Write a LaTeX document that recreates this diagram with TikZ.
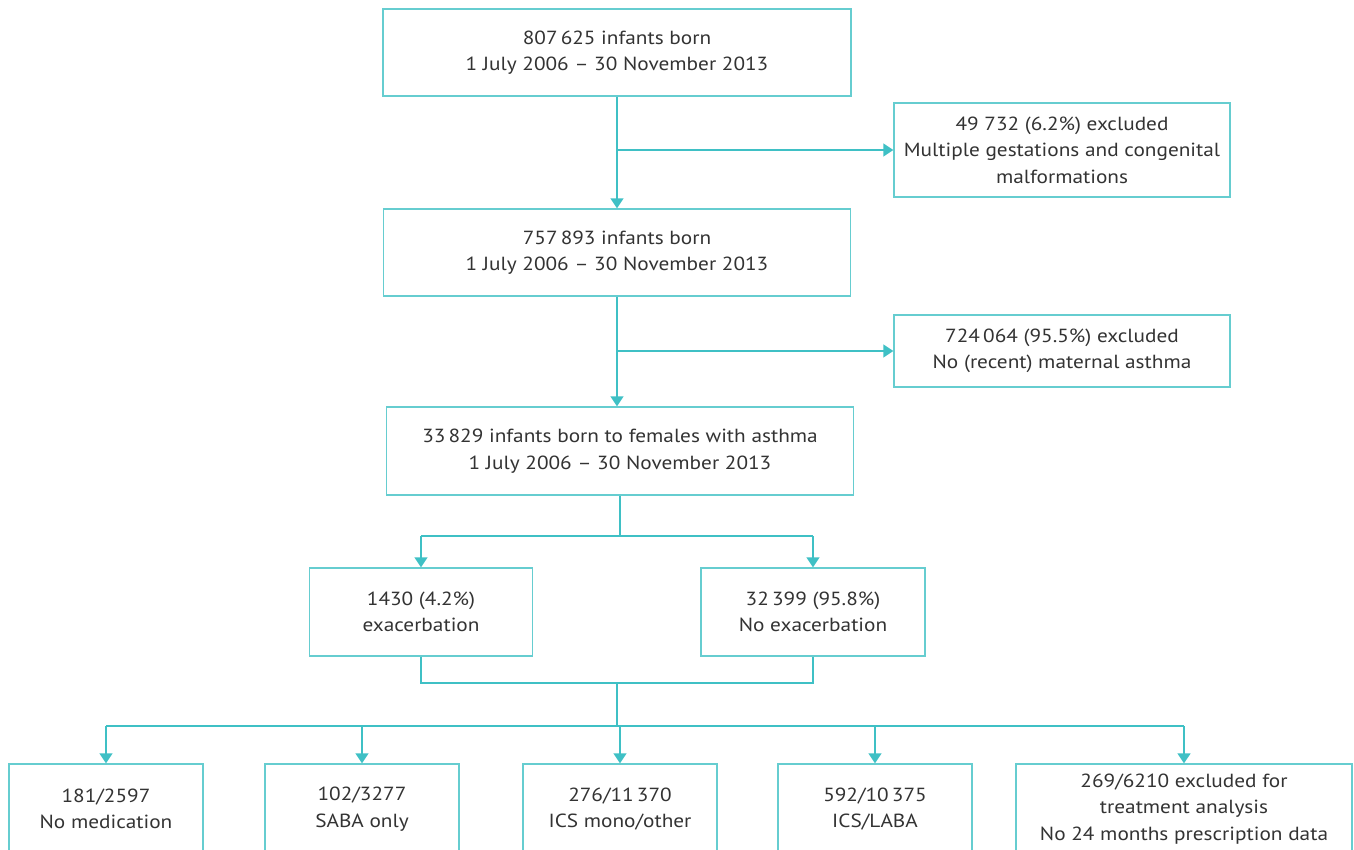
\documentclass[tikz,border=0pt]{standalone}
\usepackage{fontspec}
\setmainfont{PT Sans}[FakeStretch=1.12]
\usetikzlibrary{arrows.meta}
\definecolor{teal1}{HTML}{3FC0C5}
\definecolor{tealbox}{HTML}{66CDD0}
\definecolor{txt}{HTML}{333333}
\begin{document}
\begin{tikzpicture}[x=1pt,y=-1pt,
  box/.style={draw=tealbox,line width=1.3pt,fill=white,align=center,text=txt,
    font=\fontsize{19}{26.5}\selectfont,inner sep=0pt,anchor=center},
  conn/.style={draw=teal1,line width=1.3pt},
  arr/.style={conn,-{Triangle[length=10pt,width=13pt]}}]
\useasboundingbox (0,0) rectangle (1354,849);
\clip (0,0) rectangle (1354,849);
\node[box,minimum width=468pt,minimum height=87pt] (b1) at (617,52.5) {807\,625 infants born\\1 July 2006 -- 30 November 2013};
\node[box,minimum width=336pt,minimum height=94pt] (x1) at (1062,150) {49 732 (6.2\%) excluded\\Multiple gestations and congenital\\malformations};
\node[box,minimum width=467pt,minimum height=87pt] (b2) at (617,252.5) {757\,893 infants born\\1 July 2006 -- 30 November 2013};
\node[box,minimum width=336pt,minimum height=72pt] (x2) at (1062,351) {724\,064 (95.5\%) excluded\\No (recent) maternal asthma};
\node[box,minimum width=467pt,minimum height=88pt] (b3) at (620,451) {33\,829 infants born to females with asthma\\1 July 2006 -- 30 November 2013};
\node[box,minimum width=223pt,minimum height=88pt] (e1) at (421,612) {1430 (4.2\%)\\exacerbation};
\node[box,minimum width=224pt,minimum height=88pt] (e2) at (813,612) {32\,399 (95.8\%)\\No exacerbation};
\node[box,minimum width=194pt,minimum height=90pt] (t1) at (106,809) {181/2597\\No medication};
\node[box,minimum width=194pt,minimum height=90pt] (t2) at (362,809) {102/3277\\SABA only};
\node[box,minimum width=194pt,minimum height=90pt] (t3) at (620,809) {276/11\,370\\ICS mono/other};
\node[box,minimum width=194pt,minimum height=90pt] (t4) at (875,809) {592/10\,375\\ICS/LABA};
\node[box,minimum width=336pt,minimum height=90pt] (t5) at (1184,809) {269/6210 excluded for\\treatment analysis\\No 24 months prescription data};
% connectors
\draw[arr] (b1.south) -- (b2.north);
\draw[arr] (b1.south |- x1.west) -- (x1.west);
\draw[arr] (b2.south) -- (b2.south |- b3.north);
\draw[arr] (b2.south |- x2.west) -- (x2.west);
\coordinate (sp) at (620,536);
\draw[conn] (b3.south) -- (sp);
\draw[conn] (e1.north |- sp) -- (e2.north |- sp);
\draw[arr] (e1.north |- sp) -- (e1.north);
\draw[arr] (e2.north |- sp) -- (e2.north);
\coordinate (jn) at (617,683);
\coordinate (dv) at (617,726);
\draw[conn] (e1.south) -- (e1.south |- jn) -- (e2.south |- jn) -- (e2.south);
\draw[conn] (jn) -- (dv);
\draw[conn] (t1.north |- dv) -- (t5.north |- dv);
\foreach \t in {t1,t2,t3,t4,t5} \draw[arr] (\t.north |- dv) -- (\t.north);
\end{tikzpicture}
\end{document}
